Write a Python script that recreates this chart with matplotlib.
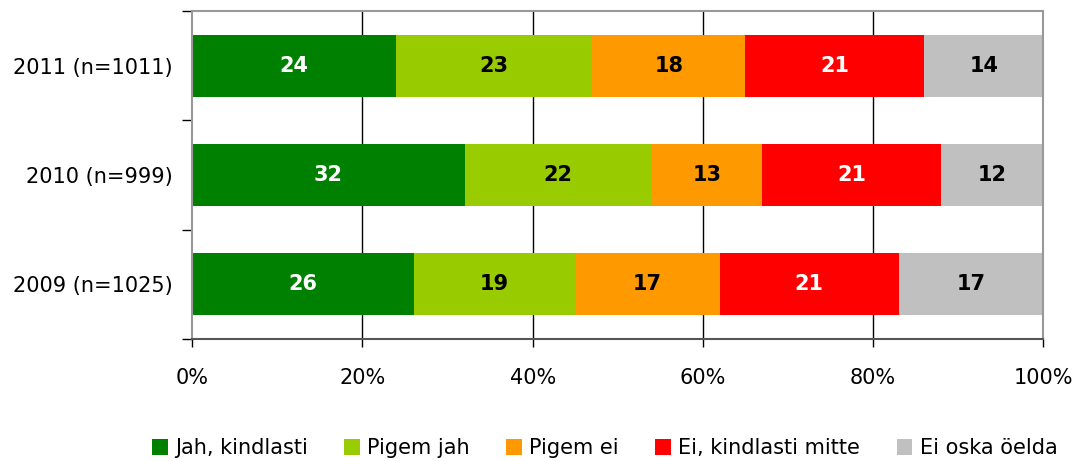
import numpy as np
import matplotlib.pyplot as plt
from matplotlib.patches import Patch

plt.rcParams['font.family'] = ['DejaVu Sans']

years = ['2009 (n=1025)', '2010 (n=999)', '2011 (n=1011)']
categories = ['Jah, kindlasti', 'Pigem jah', 'Pigem ei', 'Ei, kindlasti mitte', 'Ei oska öelda']
values = {
    'Jah, kindlasti': [26, 32, 24],
    'Pigem jah': [19, 22, 23],
    'Pigem ei': [17, 13, 18],
    'Ei, kindlasti mitte': [21, 21, 21],
    'Ei oska öelda': [17, 12, 14],
}
colors = ['#008000', '#99CC00', '#FF9900', '#FF0000', '#C0C0C0']
text_colors = ['white', 'black', 'black', 'white', 'black']

fig = plt.figure(figsize=(10.8, 4.61), dpi=100)
ax = fig.add_axes([0.178, 0.265, 0.788, 0.711])

y = np.arange(len(years))
left = np.zeros(len(years))
for cat, col, tc in zip(categories, colors, text_colors):
    v = np.array(values[cat], dtype=float)
    ax.barh(y, v, left=left, height=0.57, color=col, zorder=2)
    for yi, (l, w) in enumerate(zip(left, v)):
        ax.text(l + w / 2, yi, f'{int(w)}', ha='center', va='center',
                color=tc, fontsize=15, fontweight='bold', zorder=3)
    left += v

ax.set_xlim(0, 100)
ax.set_ylim(-0.5, 2.5)
ax.set_xticks(np.arange(0, 101, 20))
ax.set_xticklabels([f'{t}%' for t in range(0, 101, 20)], fontsize=15)
ax.set_yticks(y)
ax.set_yticklabels(years, fontsize=15)
ax.tick_params(axis='y', length=0, pad=14)
ax.tick_params(axis='x', length=6, width=1, color='black', pad=15)
ax.set_yticks([-0.5, 0.5, 1.5, 2.5], minor=True)
ax.tick_params(axis='y', which='minor', length=7, width=1, color='black')

for gx in [20, 40, 60, 80]:
    ax.axvline(gx, color='black', lw=1, zorder=1)

for side in ['top', 'right', 'left']:
    ax.spines[side].set_color('#999999')
    ax.spines[side].set_linewidth(1.5)
ax.spines['bottom'].set_color('#555555')
ax.spines['bottom'].set_linewidth(1.5)

handles = [Patch(facecolor=c, edgecolor='none') for c in colors]
fig.legend(handles, categories, loc='lower center', bbox_to_anchor=(0.56, -0.035),
           ncol=5, frameon=False, fontsize=15, handlelength=0.75, handleheight=0.75,
           handletextpad=0.35, columnspacing=1.75)

fig.savefig('out.png', dpi=100)
